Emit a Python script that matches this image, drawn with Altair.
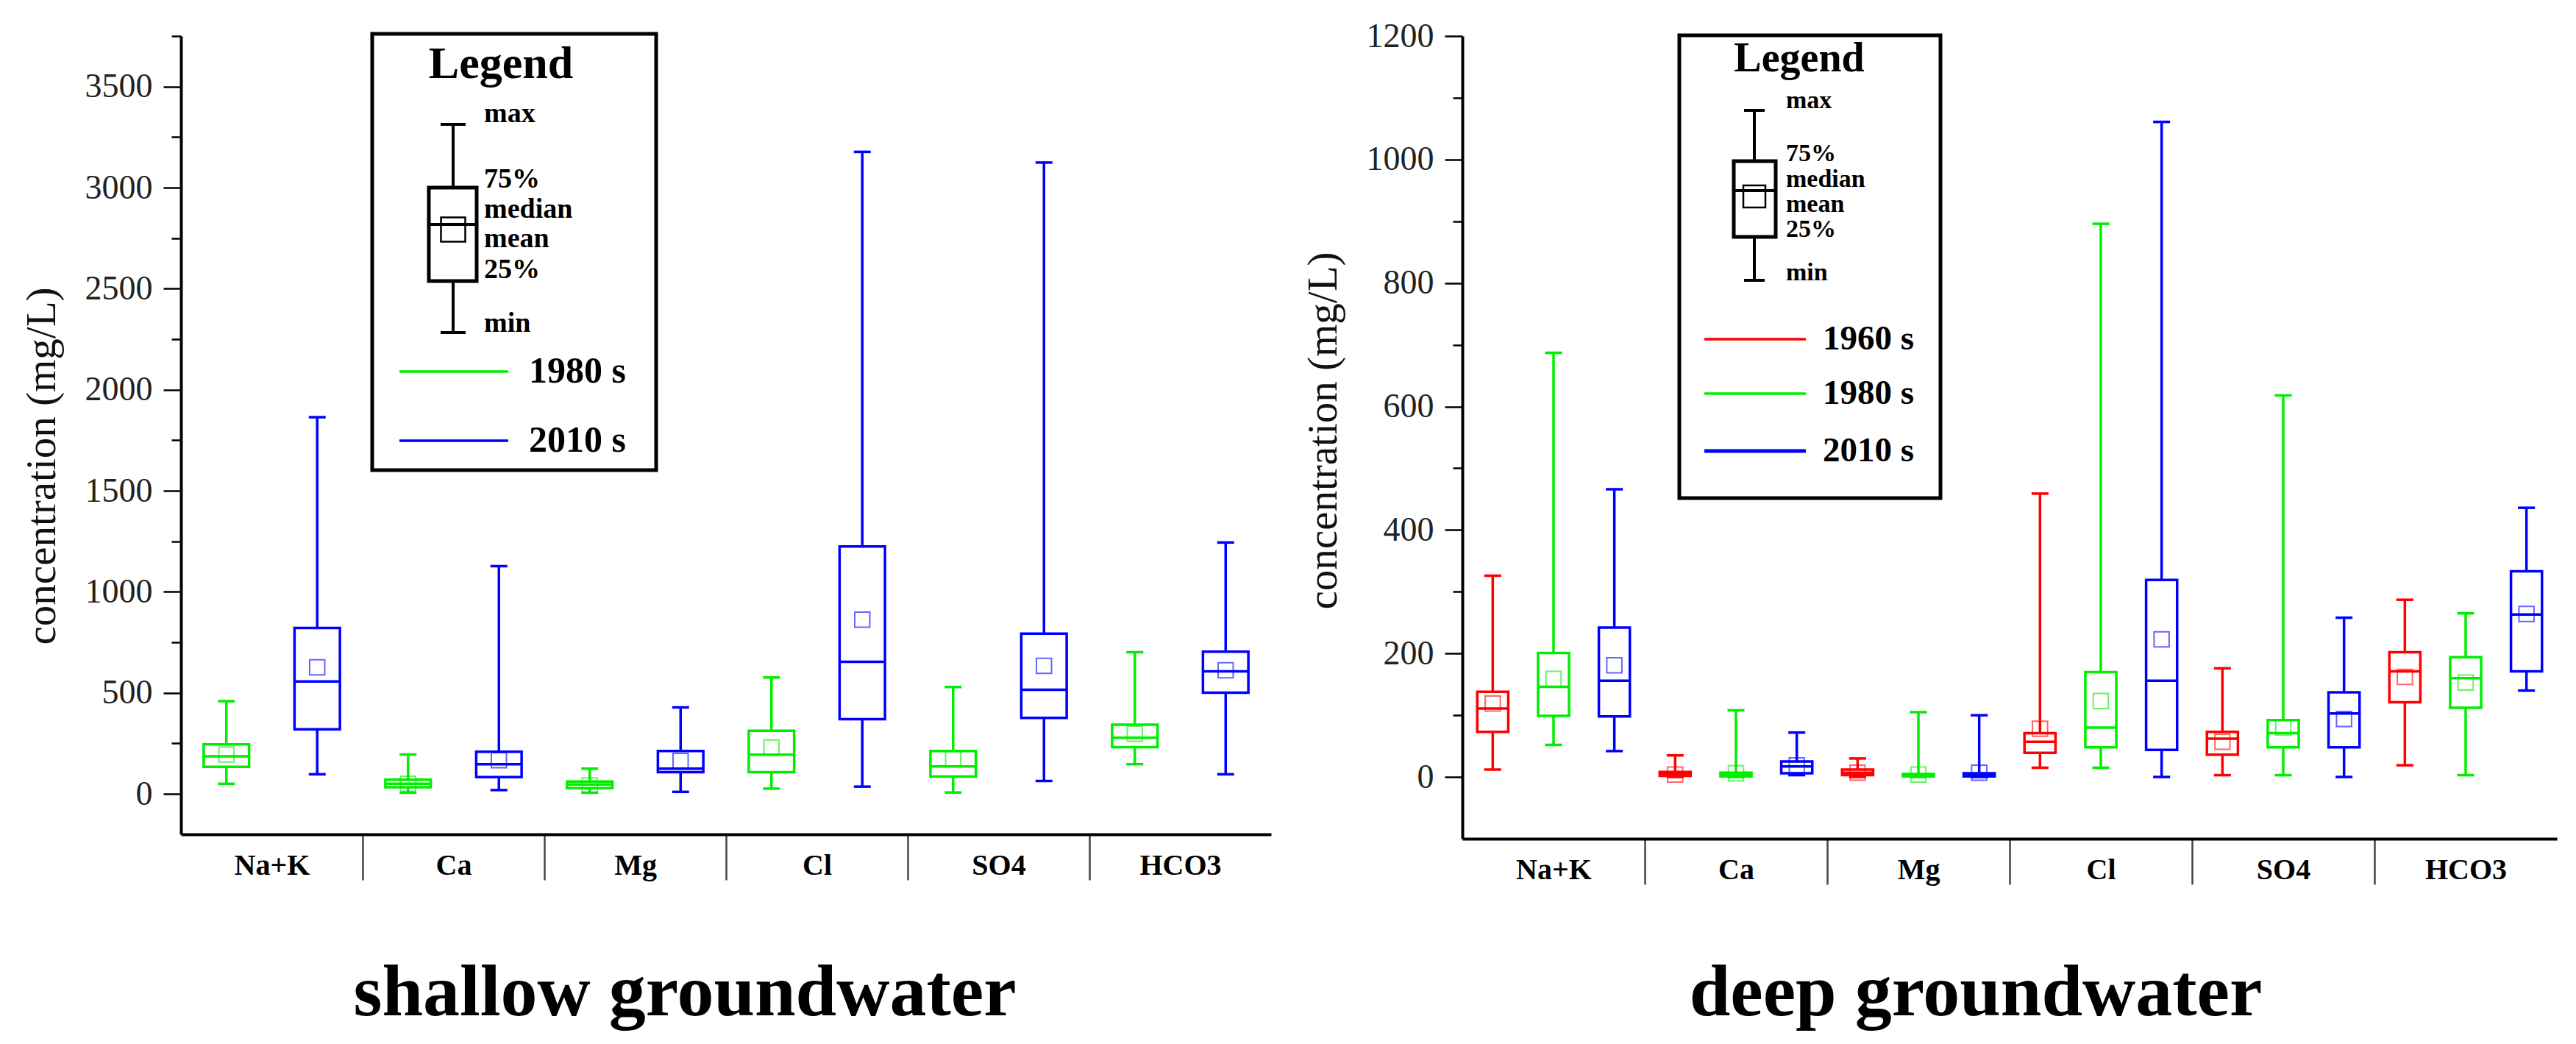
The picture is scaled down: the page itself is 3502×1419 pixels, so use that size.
import altair as alt
import pandas as pd

# ---------------- data ----------------
ions = ["Na+K", "Ca", "Mg", "Cl", "SO4", "HCO3"]

# shallow groundwater
sh_80_min = [50, 6, 6, 26, 7, 147]
sh_80_q1 = [134, 33, 28, 108, 86, 231]
sh_80_med = [186, 50, 47, 194, 136, 278]
sh_80_q3 = [245, 70, 61, 312, 212, 342]
sh_80_max = [459, 195, 125, 576, 529, 701]
sh_80_mean = [195, 50, 42, 230, 172, 298]

sh_10_min = [97, 19, 10, 36, 64, 97]
sh_10_q1 = [320, 83, 108, 370, 376, 501]
sh_10_med = [556, 147, 125, 654, 515, 606]
sh_10_q3 = [821, 209, 212, 1224, 793, 704]
sh_10_max = [1864, 1127, 428, 3177, 3124, 1244]
sh_10_mean = [626, 167, 163, 862, 634, 612]

# deep groundwater
dp_60_min = [12, 0, 0, 15, 3, 19]
dp_60_q1 = [73, 2, 3, 39, 36, 121]
dp_60_med = [111, 4, 7, 57, 62, 171]
dp_60_q3 = [138, 8, 12, 71, 73, 202]
dp_60_max = [326, 35, 30, 459, 176, 287]
dp_60_mean = [119, 4, 7, 78, 57, 162]

dp_80_min = [52, 0, 0, 15, 3, 3]
dp_80_q1 = [99, 1, 1, 48, 48, 112]
dp_80_med = [146, 4, 3, 80, 71, 160]
dp_80_q3 = [201, 7, 5, 170, 92, 194]
dp_80_max = [687, 108, 105, 896, 618, 265]
dp_80_mean = [159, 6, 4, 123, 80, 153]

dp_10_min = [42, 3, 0, 0, 0, 140]
dp_10_q1 = [98, 6, 1, 44, 48, 171]
dp_10_med = [156, 17, 3, 156, 103, 263]
dp_10_q3 = [242, 25, 6, 319, 137, 333]
dp_10_max = [466, 72, 100, 1061, 258, 436]
dp_10_mean = [181, 19, 7, 223, 94, 264]

series_colors = {"1960 s": "#FF0000", "1980 s": "#00EE00", "2010 s": "#0000FF"}

FONT = "Liberation Serif"


def make_df(series_stats, offsets, box_w, cap_w):
    rows = []
    for name, (mn, q1, md, q3, mx, mean) in series_stats.items():
        for i, ion in enumerate(ions):
            xc = i + 0.5 + offsets[name]
            rows.append(dict(ion=ion, series=name, xc=xc,
                             box_l=xc - box_w / 2, box_r=xc + box_w / 2,
                             cap_l=xc - cap_w / 2, cap_r=xc + cap_w / 2,
                             vmin=mn[i], q1=q1[i], median=md[i], q3=q3[i],
                             vmax=mx[i], mean=mean[i]))
    return pd.DataFrame(rows)


def panel(df, series, ydomain, major, minor, width, height, title, title_dx,
          title_offset, ytitle_y, leg):
    xs = alt.Scale(domain=[0, 6], nice=False, zero=False)
    ys = alt.Scale(domain=ydomain, nice=False, zero=False)
    stroke = alt.Stroke("series:N",
                        scale=alt.Scale(domain=series,
                                        range=[series_colors[s] for s in series]),
                        legend=None)
    names_expr = "[" + ",".join("'%s'" % n for n in ions) + "]"
    xaxis = alt.Axis(
        values=[k / 2 for k in range(1, 12)],
        labelExpr="datum.value % 1 === 0 ? '' : " + names_expr + "[floor(datum.value)]",
        tickSize={"condition": {"test": "datum.value % 1 === 0", "value": 62}, "value": 0},
        tickColor="#444", tickWidth=2.5, domainColor="black", domainWidth=4,
        labelFont=FONT, labelFontSize=40, labelFontWeight="bold", labelColor="black",
        labelPadding=22, labelOverlap=False, labelFlush=False, title=None, grid=False)
    yaxis = alt.Axis(
        values=list(range(0, int(ydomain[1]) + 1, minor)),
        format="d",
        labelExpr="datum.value %% %d === 0 ? datum.label : ''" % major,
        tickSize={"condition": {"test": "datum.value %% %d === 0" % major, "value": 24},
                  "value": 13},
        tickColor="black", tickWidth=2.5, domainColor="black", domainWidth=4,
        labelFont=FONT, labelFontSize=46, labelColor="#222", labelPadding=15,
        title="concentration (mg/L)", titleFont=FONT, titleFontSize=57,
        titleFontWeight="normal", titleColor="#111", titlePadding=29,
        titleY=ytitle_y, grid=False)

    def X(f):
        return alt.X(f, scale=xs, axis=xaxis)

    def Y(f):
        return alt.Y(f, scale=ys, axis=yaxis)

    base = alt.Chart(df)
    box = base.mark_rect(fillOpacity=0, strokeWidth=3.5).encode(
        x=X("box_l:Q"), x2="box_r:Q", y=Y("q1:Q"), y2="q3:Q", stroke=stroke)
    wu = base.mark_rule(strokeWidth=3.5).encode(
        x=X("xc:Q"), y=Y("q3:Q"), y2="vmax:Q", stroke=stroke)
    wl = base.mark_rule(strokeWidth=3.5).encode(
        x=X("xc:Q"), y=Y("vmin:Q"), y2="q1:Q", stroke=stroke)
    cu = base.mark_rule(strokeWidth=3.5).encode(
        x=X("cap_l:Q"), x2="cap_r:Q", y=Y("vmax:Q"), stroke=stroke)
    cl = base.mark_rule(strokeWidth=3.5).encode(
        x=X("cap_l:Q"), x2="cap_r:Q", y=Y("vmin:Q"), stroke=stroke)
    med = base.mark_rule(strokeWidth=3.5).encode(
        x=X("box_l:Q"), x2="box_r:Q", y=Y("median:Q"), stroke=stroke)
    mean = base.mark_point(shape="square", size=420, strokeWidth=2, opacity=0.6).encode(
        x=X("xc:Q"), y=Y("mean:Q"), stroke=stroke)

    # ---- legend box (drawn in pixel space) ----
    one = alt.Chart(pd.DataFrame({"k": [0]}))
    frame = one.mark_rect(fill="white", stroke="black", strokeWidth=5).encode(
        x=alt.value(leg["box"][0]), x2=alt.value(leg["box"][1]),
        y=alt.value(leg["box"][2]), y2=alt.value(leg["box"][3]))
    ltitle = one.mark_text(text="Legend", font=FONT, fontWeight="bold",
                           fontSize=leg["tsize"], align="center",
                           baseline="alphabetic", color="black").encode(
        x=alt.value(leg["tx"]), y=alt.value(leg["ty"]))
    wx = leg["wx"]
    s_top, s_q3, s_med, s_q1, s_bot = leg["sy"]
    bl, br = leg["bx"]
    cw = leg["cw"]
    sample = [
        one.mark_rule(color="black", strokeWidth=4).encode(
            x=alt.value(wx), y=alt.value(s_top), y2=alt.value(s_q3)),
        one.mark_rule(color="black", strokeWidth=4).encode(
            x=alt.value(wx), y=alt.value(s_q1), y2=alt.value(s_bot)),
        one.mark_rule(color="black", strokeWidth=4).encode(
            x=alt.value(wx - cw), x2=alt.value(wx + cw), y=alt.value(s_top)),
        one.mark_rule(color="black", strokeWidth=4).encode(
            x=alt.value(wx - cw), x2=alt.value(wx + cw), y=alt.value(s_bot)),
        one.mark_rect(fillOpacity=0, stroke="black", strokeWidth=5).encode(
            x=alt.value(bl), x2=alt.value(br), y=alt.value(s_q3), y2=alt.value(s_q1)),
        one.mark_rule(color="black", strokeWidth=4).encode(
            x=alt.value(bl), x2=alt.value(br), y=alt.value(s_med)),
        one.mark_point(shape="square", size=leg["msq"] ** 2, strokeWidth=2.5,
                       color="black", opacity=1).encode(
            x=alt.value(wx), y=alt.value(leg["my"])),
    ]
    lab_df = pd.DataFrame({"t": ["max", "75%", "median", "mean", "25%", "min"],
                           "py": leg["ly"]})
    labels = alt.Chart(lab_df).mark_text(font=FONT, fontWeight="bold",
                                         fontSize=leg["lsize"], align="left",
                                         baseline="middle", color="black").encode(
        x=alt.value(leg["lx"]), y=alt.Y("py:Q", scale=None), text="t:N")
    ser_df = pd.DataFrame({"series": series, "py": leg["sery"],
                           "sw": [5 if s == "2010 s" and len(series) == 3 else 3.5
                                  for s in series]})
    slines = alt.Chart(ser_df).mark_rule().encode(
        x=alt.value(leg["serx"][0]), x2=alt.value(leg["serx"][1]),
        y=alt.Y("py:Q", scale=None), stroke=stroke,
        strokeWidth=alt.StrokeWidth("sw:Q", scale=None))
    stext = alt.Chart(ser_df).mark_text(font=FONT, fontWeight="bold",
                                        fontSize=leg["ssize"], align="left",
                                        baseline="middle", color="black").encode(
        x=alt.value(leg["stx"]), y=alt.Y("py:Q", scale=None), text="series:N")

    return alt.layer(box, wu, wl, cu, cl, med, mean, frame, ltitle, *sample,
                     labels, slines, stext).properties(
        width=width, height=height,
        title=alt.TitleParams(text=title, orient="bottom", anchor="middle",
                              frame="group", dx=title_dx, offset=title_offset,
                              fontSize=100, font=FONT, fontWeight="bold",
                              color="black", baseline="top"))


shallow_df = make_df({"1980 s": (sh_80_min, sh_80_q1, sh_80_med, sh_80_q3, sh_80_max, sh_80_mean),
                      "2010 s": (sh_10_min, sh_10_q1, sh_10_med, sh_10_q3, sh_10_max, sh_10_mean)},
                     {"1980 s": -0.25, "2010 s": 0.25}, 0.25, 0.093)
deep_df = make_df({"1960 s": (dp_60_min, dp_60_q1, dp_60_med, dp_60_q3, dp_60_max, dp_60_mean),
                   "1980 s": (dp_80_min, dp_80_q1, dp_80_med, dp_80_q3, dp_80_max, dp_80_mean),
                   "2010 s": (dp_10_min, dp_10_q1, dp_10_med, dp_10_q3, dp_10_max, dp_10_mean)},
                  {"1960 s": -1 / 3, "1980 s": 0.0, "2010 s": 1 / 3}, 0.17, 0.093)

leg_left = dict(box=(260, 646, -3, 590), tsize=62, tx=435, ty=57,
                wx=370, sy=(120, 206, 256, 333, 403), bx=(337, 402), cw=17,
                msq=33, my=263, lsize=38, lx=412,
                ly=[106, 195, 236, 276, 318, 391],
                serx=(297, 445), sery=[456, 550], stx=473, ssize=50)
leg_right = dict(box=(295, 650, -1, 628), tsize=56, tx=458, ty=48,
                 wx=397, sy=(101, 170, 210, 273, 332), bx=(369, 426), cw=14,
                 msq=30, my=218, lsize=34, lx=440,
                 ly=[88, 160, 195, 229, 263, 322],
                 serx=(329, 467), sery=[412, 486, 564], stx=490, ssize=47)

left = panel(shallow_df, ["1980 s", "2010 s"], [-200, 3750], 500, 250,
             1482, 1085, "shallow groundwater", -56, 43, 584, leg_left)
right = panel(deep_df, ["1960 s", "1980 s", "2010 s"], [-100, 1200], 200, 100,
              1488, 1091, "deep groundwater", -46, 37, 536, leg_right)

chart = alt.hconcat(left, right, spacing=42).resolve_scale(
    stroke="independent", x="independent", y="independent").properties(
    padding={"left": 20, "top": 18, "right": 5, "bottom": 5},
    background="white",
).configure_view(stroke=None)

chart.save("out.html", embed_options={"renderer": "svg", "actions": False})
